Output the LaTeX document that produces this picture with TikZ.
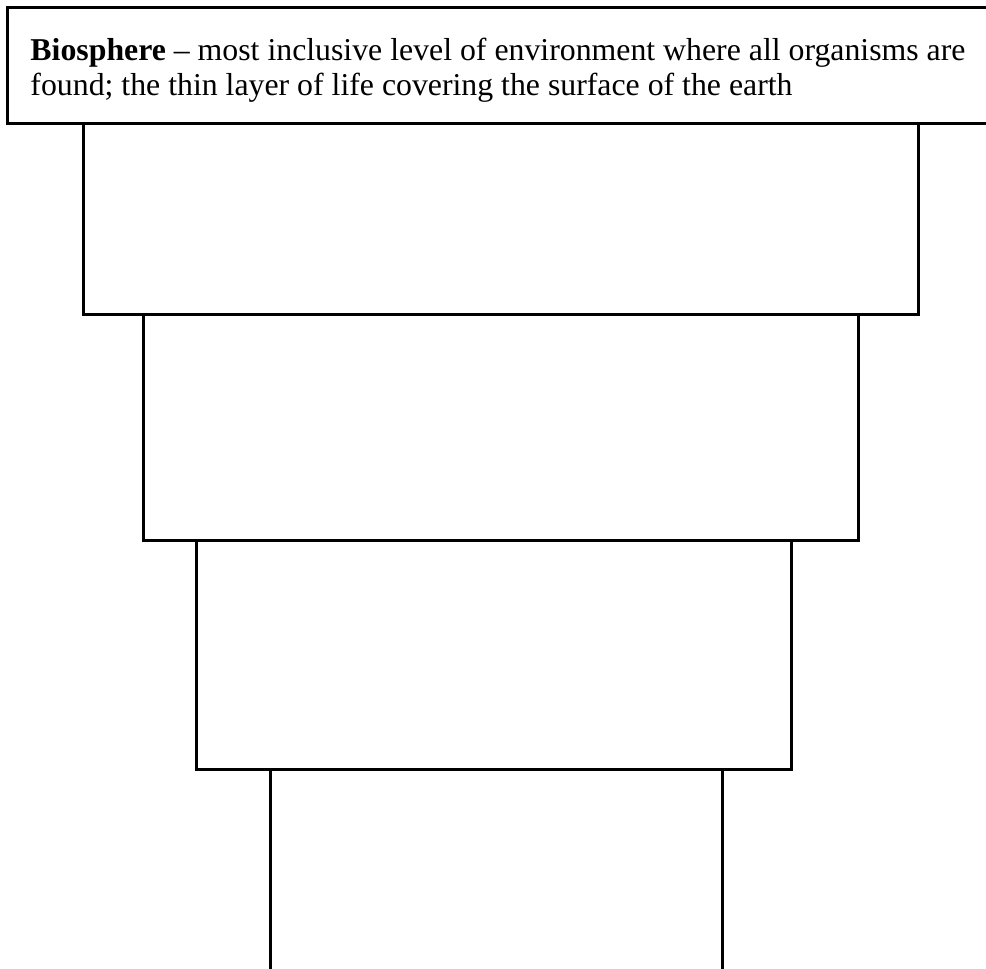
\documentclass[tikz,border=0pt]{standalone}
\usepackage{fontspec}
\setmainfont{Liberation Serif}
\begin{document}
\begin{tikzpicture}[x=1pt,y=-1pt]
		\path[use as bounding box] (0,0) rectangle (986,969);
		\tikzstyle{every path}=[line width=3pt,line join=miter]
		
		%% Level one: biosphere (runs out at the right)
		\draw (986,7) coordinate (b1) -- (7,7) coordinate (b2) -- (7,123) coordinate (b3) -- (986,123) coordinate (b4);
		\draw (29,37) node [anchor=north west, inner sep=0pt, align=left, font=\fontsize{31.8}{35}\selectfont] (bio) {\textbf{Biosphere} – most inclusive level of environment where all organisms are\\found; the thin layer of life covering the surface of the earth};
		
		%% Level two
		\draw (83,123) coordinate (l2a) rectangle (918,314) coordinate (l2b);
		
		%% Level three
		\draw (143,314) coordinate (l3a) rectangle (858,540) coordinate (l3b);
		
		%% Level four
		\draw (196,540) coordinate (l4a) rectangle (791,769) coordinate (l4b);
		
		%% Level five (open at the bottom)
		\draw (270,975) coordinate (l5a) -- (270,769) coordinate (l5b) -- (722,769) coordinate (l5c) -- (722,975) coordinate (l5d);
		
	\end{tikzpicture}
\end{document}
